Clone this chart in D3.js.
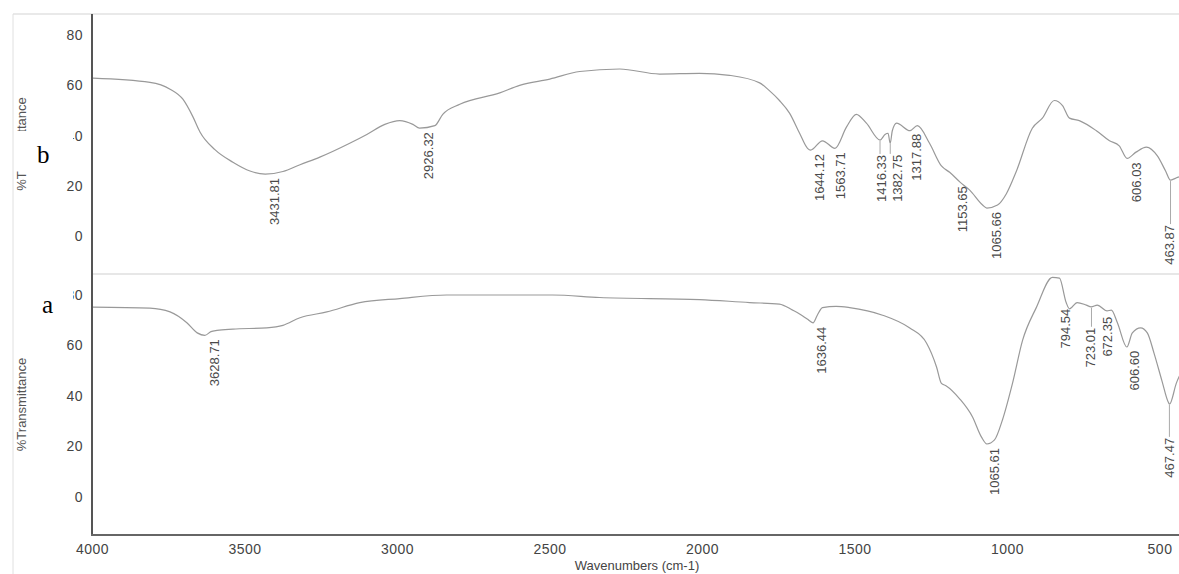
<!DOCTYPE html>
<html>
<head>
<meta charset="utf-8">
<script src="https://cdn.jsdelivr.net/npm/d3@7"></script>
<style>
  body { margin: 0; background: #fff; }
  svg { display: block; font-family: "Liberation Sans", Arial, sans-serif; }
  .tick text { fill: #444; font-size: 14px; letter-spacing: 0.5px; }
  .peak { fill: #4a4a4a; font-size: 13px; }
</style>
</head>
<body>
<div id="svg-container"></div>
<script>
// spectrum b (top panel): wavenumber / %T
var wnB = [4000, 3810, 3744, 3702, 3669, 3646, 3597, 3538, 3482, 3432, 3374, 3318, 3253, 3155, 3099, 3040,
  2991, 2948, 2926, 2876, 2850, 2794, 2663, 2598, 2499, 2401, 2270, 2139, 2008, 1910, 1811, 1780, 1746,
  1713, 1680, 1654, 1644, 1605, 1564, 1526, 1494, 1461, 1416, 1400, 1390, 1383, 1376, 1362, 1318, 1294,
  1254, 1215, 1188, 1154, 1123, 1080, 1066, 1031, 1002, 969, 917, 884, 845, 818, 795, 763, 707, 664, 632,
  606, 577, 543, 507, 480, 464, 450, 438, 400];
var tB = [62.9, 61.2, 58.5, 54.5, 47.5, 41.5, 34.5, 29.5, 26, 24.8, 25.8, 28.5, 31.5, 37, 40.5, 44.5,
  46, 44.5, 43, 44, 48.5, 52.5, 57, 60, 62.5, 65.5, 66.5, 64.5, 64.8, 64, 61, 58, 54,
  49, 41, 35, 34.3, 38, 35, 43.5, 48.5, 45, 38.3, 40.5, 41, 37, 42, 45, 42, 44,
  37, 28, 25.5, 21.6, 18.5, 12.5, 11.3, 12.5, 17, 26, 43, 47, 54, 52, 47, 46, 42, 38, 36,
  31, 33.5, 35.5, 32, 26, 22.4, 23, 23.6, 24];

// spectrum a (bottom panel)
var wnA = [4000, 3810, 3744, 3689, 3655, 3630, 3610, 3590, 3538, 3427, 3374, 3318, 3230, 3122, 2991,
  2837, 2490, 2336, 2008, 1844, 1746, 1703, 1680, 1655, 1636, 1622, 1605, 1560, 1516, 1408, 1320, 1264,
  1231, 1215, 1199, 1156, 1113, 1084, 1066, 1041, 1015, 982, 949, 904, 851, 828, 806, 795, 770, 740,
  724, 704, 672, 658, 638, 607, 589, 562, 540, 518, 492, 471, 467, 445, 400];
var tA = [75.2, 74.8, 73.3, 69, 65, 64, 65.5, 66, 66.5, 67, 68, 71, 73.3, 77, 78.6,
  80, 80, 79, 78.2, 77, 76.4, 74, 72.5, 70.5, 69, 72, 75, 75.5, 75, 72, 67, 61,
  51.5, 45, 44, 39, 31.7, 23.8, 21, 22.6, 30.5, 45, 62, 75, 87, 86.7, 77, 74.5, 77, 76,
  75.3, 76, 73.7, 74, 69, 59.4, 65, 67, 65, 57, 46, 37.5, 36.8, 45, 55];

// labelled peaks
var peaksB = [3431.81, 2926.32, 1644.12, 1563.71, 1416.33, 1382.75, 1317.88, 1153.65, 1065.66, 606.03, 463.87];
var peaksA = [3628.71, 1636.44, 1065.61, 794.54, 723.01, 672.35, 606.60, 467.47];

var xTicks = [4000, 3500, 3000, 2500, 2000, 1500, 1000, 500];
var yTicks = [0, 20, 40, 60, 80];

//label nudges (px): dx sideways, drop = leader length
var labelLayout = {
  "1563.71": { dx: 5 },
  "1416.33": { dx: 1, drop: 11 },
  "1382.75": { dx: 7, drop: 8 },
  "1317.88": { dx: 6, drop: -1 },
  "1153.65": { dx: 2 },
  "463.87": { dx: -1, drop: 41 },
  "794.54": { dx: -4, drop: -4 },
  "723.01": { dx: -1, drop: 17 },
  "672.35": { dx: 1, drop: 2 },
  "606.60": { dx: 7 },
  "467.47": { dx: 0, drop: 30 },
  "1065.61": { dx: 7 }
};

var svg = d3
  .select("#svg-container")
  .append("svg")
  .attr("width", 1179)
  .attr("height", 574);

var x = d3.scaleLinear().domain([4000, 400]).range([92, 1190]);
var yTop = d3.scaleLinear().domain([0, 80]).range([236.5, 35]);
var yBot = d3.scaleLinear().domain([0, 80]).range([497, 295]);

var panels = [
  { id: "b", wn: wnB, t: tB, peaks: peaksB, y: yTop, top: 14, bottom: 274 },
  { id: "a", wn: wnA, t: tA, peaks: peaksA, y: yBot, top: 274, bottom: 535 }
];

//frame lines
svg.append("line").attr("x1", 13).attr("x2", 1179).attr("y1", 14).attr("y2", 14)
  .attr("stroke", "#d4d4d4").attr("stroke-width", 1.2);
svg.append("line").attr("x1", 13).attr("x2", 13).attr("y1", 14).attr("y2", 574)
  .attr("stroke", "#e0e0e0").attr("stroke-width", 1);
svg.append("line").attr("x1", 92).attr("x2", 1179).attr("y1", 274).attr("y2", 274)
  .attr("stroke", "#d0d0d0").attr("stroke-width", 1.2);

panels.forEach(function (p) {
  svg.append("clipPath").attr("id", "clip-" + p.id)
    .append("rect").attr("x", 93).attr("y", p.top).attr("width", 1100).attr("height", p.bottom - p.top);

  //y axis
  var g = svg.append("g").attr("transform", "translate(92,0)")
    .call(d3.axisLeft(p.y).tickValues(yTicks).tickSize(0).tickPadding(9));
  g.select(".domain").remove();

  //y title
  svg.append("text")
    .attr("transform", "translate(26," + (p.top + p.bottom) / 2 + ") rotate(-90)")
    .attr("text-anchor", "middle")
    .attr("fill", "#555")
    .attr("font-size", "13px")
    .text("%Transmittance");

  var pts = p.wn.map(function (w, i) { return [w, p.t[i]]; });
  var line = d3.line()
    .x(function (d) { return x(d[0]); })
    .y(function (d) { return p.y(d[1]); })
    .curve(d3.curveMonotoneX);

  svg.append("path")
    .datum(pts)
    .attr("clip-path", "url(#clip-" + p.id + ")")
    .attr("fill", "none")
    .attr("stroke", "#999")
    .attr("stroke-width", 1.2)
    .attr("d", line);

  //curve value at a wavenumber
  var asc = pts.slice().reverse();
  var bis = d3.bisector(function (d) { return d[0]; }).left;
  function valueAt(w) {
    var i = bis(asc, w);
    if (i <= 0) return asc[0][1];
    if (i >= asc.length) return asc[asc.length - 1][1];
    var a = asc[i - 1], b = asc[i];
    return a[1] + (b[1] - a[1]) * (w - a[0]) / (b[0] - a[0]);
  }

  p.peaks.forEach(function (w) {
    var label = w.toFixed(2);
    var lay = labelLayout[label] || {};
    var dx = lay.dx === undefined ? 9 : lay.dx;
    var drop = lay.drop || 0;
    var px = x(w);
    var py = p.y(valueAt(w));
    var top = py + 4 + drop;
    if (drop > 3) {
      svg.append("line")
        .attr("x1", px).attr("x2", px)
        .attr("y1", py + 1).attr("y2", top - 1)
        .attr("stroke", "#aaa").attr("stroke-width", 1);
    }
    svg.append("text")
      .attr("class", "peak")
      .attr("transform", "translate(" + (px + dx) + "," + top + ") rotate(-90)")
      .attr("text-anchor", "end")
      .attr("dy", "0.35em")
      .text(label);
  });
});

//axis lines
svg.append("line").attr("x1", 92).attr("x2", 92).attr("y1", 14).attr("y2", 536)
  .attr("stroke", "#555").attr("stroke-width", 2);
svg.append("line").attr("x1", 91).attr("x2", 1179).attr("y1", 535).attr("y2", 535)
  .attr("stroke", "#666").attr("stroke-width", 2);

var gx = svg.append("g").attr("transform", "translate(0,535)")
  .call(d3.axisBottom(x).tickValues(xTicks).tickSize(0).tickPadding(9).tickFormat(d3.format("d")));
gx.select(".domain").remove();

svg.append("text")
  .attr("x", 637).attr("y", 570)
  .attr("text-anchor", "middle")
  .attr("fill", "#444")
  .attr("font-size", "13px")
  .text("Wavenumbers (cm-1)");

//pasted sample tags
svg.append("rect").attr("x", 15).attr("y", 131).attr("width", 58).attr("height", 40).attr("fill", "#fff");
svg.append("text").attr("x", 37).attr("y", 163)
  .attr("font-family", "'Liberation Serif', 'Times New Roman', serif")
  .attr("font-size", "25px").attr("fill", "#000").text("b");

svg.append("rect").attr("x", 28).attr("y", 283).attr("width", 45).attr("height", 38).attr("fill", "#fff");
svg.append("text").attr("x", 42).attr("y", 313)
  .attr("font-family", "'Liberation Serif', 'Times New Roman', serif")
  .attr("font-size", "25px").attr("fill", "#000").text("a");
</script>
</body>
</html>
